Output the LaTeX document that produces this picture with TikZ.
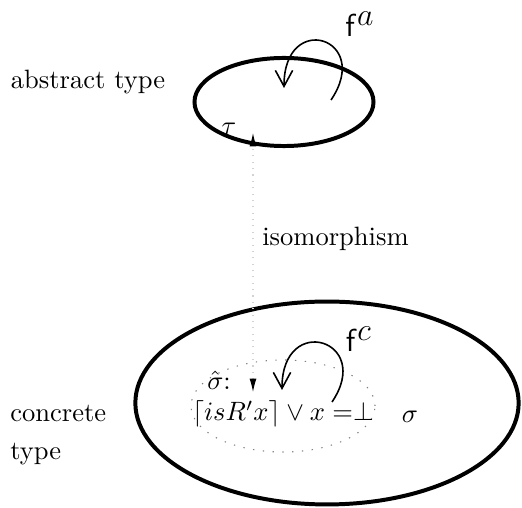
\documentclass[tikz,border=0pt]{standalone}
\usetikzlibrary{arrows.meta,shapes.geometric}

\begin{document}
\begin{tikzpicture}[x=0.377pt,y=0.377pt,
   ty/.style={ellipse,draw,line width=1.5pt,inner sep=0pt},
   dom/.style={ellipse,draw=gray,dash pattern=on 0.5pt off 3.2pt,inner sep=0pt},
   fn/.style={-{Straight Barb[length=6pt,width=6.5pt]},line width=0.6pt},
   iso/.style={draw=gray!35,dotted,{Latex[length=5pt,width=2.6pt,color=black]}-{Latex[length=5pt,width=2.6pt,color=black]}}]
  \useasboundingbox (0,0) rectangle (522,508);
  % abstract type (top)
  \node[ty,minimum width=67.5pt,minimum height=33.2pt] (abs) at (284,406) {};
  \node (tau) at (229,379) {$\tau$};
  \node (abslbl) at (88,426) {abstract type};
  \node[font=\large] (fa) at (360,484) {$\mathsf{f}^{\textstyle a}$};
  \coordinate (fa-out) at (331,408);
  \coordinate (fa-in)  at (284,420);
  \draw[fn] (fa-out) .. controls +(42,62) and +(0,78) .. (fa-in);
  % concrete type (bottom)
  \node[ty,minimum width=144.5pt,minimum height=76.5pt] (conc) at (327,105) {};
  \node[dom,minimum width=69.4pt,minimum height=34.7pt] (dom) at (283,102) {};
  \node (sigma) at (410,91) {$\sigma$};
  \node[inner sep=0.5pt] (shat) at (219,128) {$\hat{\sigma}$:};
  \node[inner sep=0.5pt] (inv) at (283,94) {$\lceil isR'x\rceil \vee x = \perp$};
  \node[anchor=west,align=left] (conclbl) at (1,73) {concrete\\[2pt]type};
  \node[font=\large] (fc) at (359,169) {$\mathsf{f}^{\textstyle c}$};
  \coordinate (fc-out) at (332,106);
  \coordinate (fc-in)  at (282,118);
  \draw[fn] (fc-out) .. controls +(42,62) and +(0,78) .. (fc-in);
  % isomorphism
  \coordinate (abs-pt)  at (253,375);
  \coordinate (conc-pt) at (253,116);
  \draw[iso] (conc-pt) -- (abs-pt) node[pos=0.59,right,text=black] {isomorphism};
\end{tikzpicture}
\end{document}
